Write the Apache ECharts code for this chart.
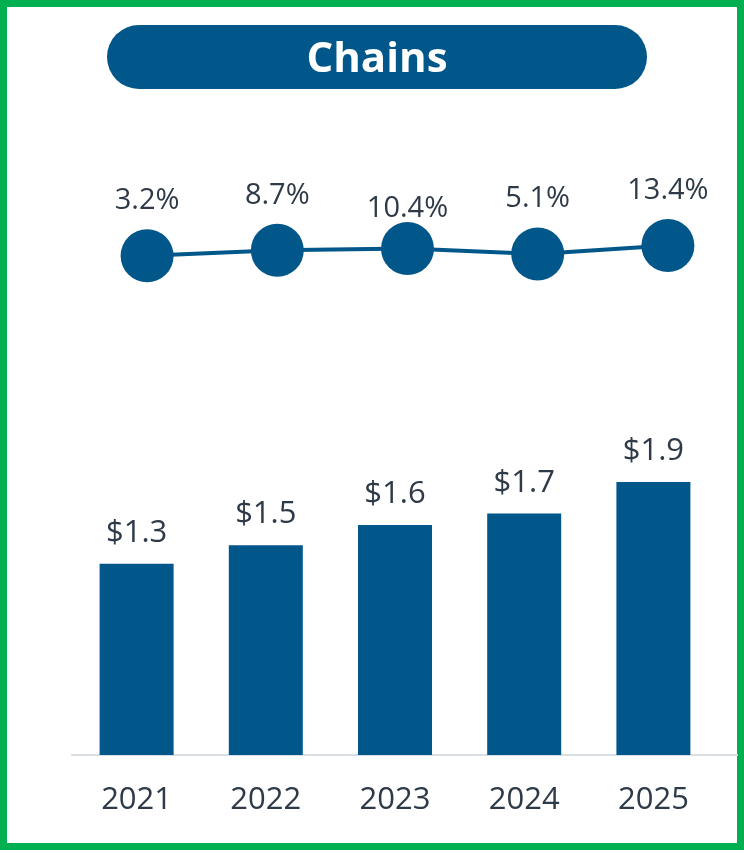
<!DOCTYPE html>
<html>
<head>
<meta charset="utf-8">
<script src="https://cdn.jsdelivr.net/npm/echarts@6/dist/echarts.min.js"></script>
<style>
  html, body { margin: 0; padding: 0; background: #fff; }
  .frame {
    width: 744px;
    height: 850px;
    box-sizing: border-box;
    border: 7px solid #00B050;
    position: relative;
  }
  .chart {
    position: absolute;
    left: -7px;
    top: -7px;
    width: 744px;
    height: 850px;
  }
</style>
</head>
<body>
<div class="frame"><div class="chart" id="chart"></div></div>
<script>
// 数据
const years = ['2021', '2022', '2023', '2024', '2025']
const growth = [3.2, 8.7, 10.4, 5.1, 13.4]
const sales = [1.33, 1.46, 1.60, 1.68, 1.90]
const title = 'Chains'

const blue = '#01578A'
const textColor = '#2E3A48'
const font = '"Open Sans", "Noto Sans", sans-serif'

const myChart = echarts.init(document.getElementById('chart'))

const option = {
  animation: false,
  textStyle: { fontFamily: font },
  graphic: [
    {
      type: 'group',
      left: 107,
      top: 25,
      children: [
        {
          type: 'rect',
          shape: { x: 0, y: 0, width: 540, height: 64, r: 32 },
          style: { fill: blue }
        },
        {
          type: 'text',
          x: 270,
          y: 35,
          style: {
            text: title,
            fill: '#fff',
            font: 'bold 42px ' + font,
            textAlign: 'center',
            textVerticalAlign: 'middle'
          }
        }
      ]
    },
    {
      // 坐标轴线向右延伸到边框
      type: 'line',
      shape: { x1: 718, y1: 755, x2: 738, y2: 755 },
      style: { stroke: '#D9DEE3', lineWidth: 2 }
    }
  ],
  grid: [
    { left: 82, width: 651, top: 150, height: 200 },
    { left: 72, width: 646, top: 400, height: 355 }
  ],
  xAxis: [
    {
      gridIndex: 0,
      type: 'category',
      data: years,
      show: false
    },
    {
      gridIndex: 1,
      type: 'category',
      data: years,
      axisTick: { show: false },
      axisLine: { lineStyle: { color: '#D9DEE3', width: 2 } },
      axisLabel: { color: textColor, fontSize: 31, margin: 30, fontFamily: font }
    }
  ],
  yAxis: [
    { gridIndex: 0, type: 'value', min: -91, max: 109, show: false },
    { gridIndex: 1, type: 'value', min: 0, max: 2.47, show: false }
  ],
  series: [
    {
      name: 'growth',
      type: 'line',
      xAxisIndex: 0,
      yAxisIndex: 0,
      data: growth.map((v, i) => ({
        value: v,
        label: i === 2 ? { distance: -1 } : undefined
      })),
      symbol: 'circle',
      symbolSize: 53,
      lineStyle: { color: blue, width: 4 },
      itemStyle: { color: blue },
      label: {
        show: true,
        position: 'top',
        distance: 14,
        color: textColor,
        fontSize: 29,
        fontFamily: font,
        formatter: (p) => p.value.toFixed(1) + '%'
      }
    },
    {
      name: 'sales',
      type: 'bar',
      xAxisIndex: 1,
      yAxisIndex: 1,
      data: sales,
      barWidth: 74,
      itemStyle: { color: blue },
      label: {
        show: true,
        position: 'top',
        distance: 15,
        color: textColor,
        fontSize: 31,
        fontFamily: font,
        formatter: (p) => '$' + p.value.toFixed(1)
      }
    }
  ]
}

myChart.setOption(option)
</script>
</body>
</html>
